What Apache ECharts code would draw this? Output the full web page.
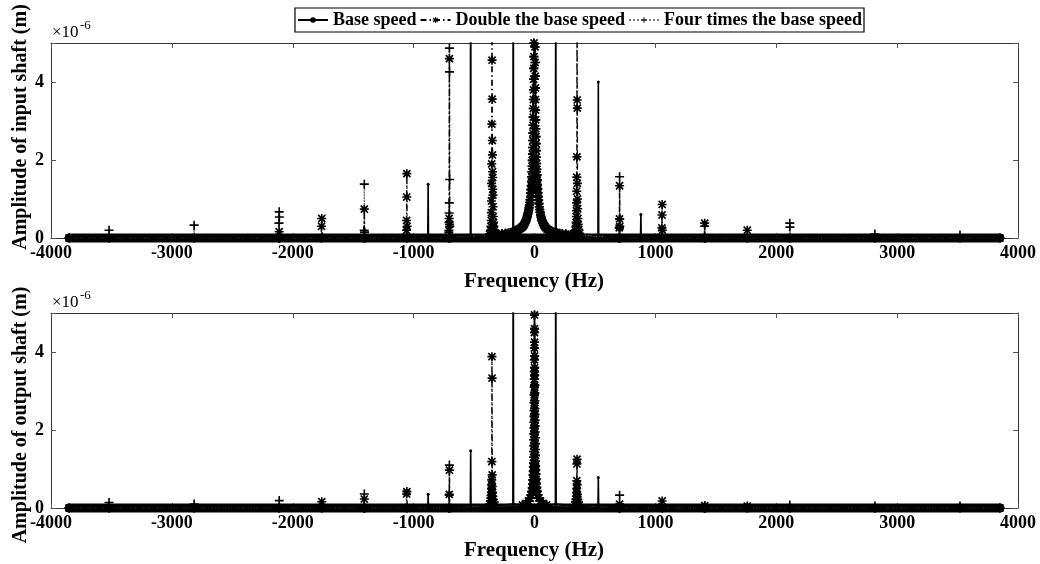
<!DOCTYPE html>
<html>
<head>
<meta charset="utf-8">
<script src="https://cdn.jsdelivr.net/npm/echarts@6/dist/echarts.min.js"></script>
<style>
html,body{margin:0;padding:0;background:#fff;}
#chart{width:1040px;height:564px;}
</style>
</head>
<body>
<div id="chart"></div>
<script>
// ---------- data (frequency in Hz, amplitude in 1e-6 m) ----------
const seriesNames = ['Base speed', 'Double the base speed', 'Four times the base speed'];
const xTicks = [-4000, 4000, 1000];          // min, max, interval
const yTicks = [0, 5, 2];                    // min, max, interval
const bandExtent = [-3850, 3850];            // thick baseline of dense markers

// central (near 0 Hz) peak, input shaft
const centerTop = [
  [-300,0.1],[-270,0.11],[-240,0.12],[-215,0.13],[-195,0.14],[-178,0.155],[-165,0.17],[-152,0.185],[-140,0.2],[-130,0.22],
  [-120,0.24],[-111,0.26],[-103,0.28],[-96,0.3],[-89,0.33],[-83,0.36],[-77,0.4],[-72,0.44],[-67,0.48],[-63,0.52],
  [-59,0.57],[-55,0.62],[-51,0.67],[-48,0.72],[-45,0.78],[-42,0.84],[-39,0.91],[-36,0.98],[-33,1.06],[-31,1.15],
  [-29,1.24],[-27,1.34],[-25,1.45],[-23,1.57],[-21,1.7],[-19.5,1.84],[-18,1.99],[-16.5,2.15],[-15,2.32],[-14,2.5],
  [-13,2.69],[-12,2.89],[-11,3.1],[-10,3.32],[-9,3.55],[-8,3.8],[-7,4.07],[-6,4.35],[-5,4.65],[-4,5],[-3,5.6],
  [0,7],
  [3,5.5],[4,4.9],[5,4.5],[6,4.15],[7,3.85],[8,3.55],[9,3.28],[10,3.03],[11,2.8],[12,2.6],
  [13,2.42],[14.5,2.24],[16,2.07],[17.5,1.91],[19,1.76],[21,1.62],[23,1.49],[25,1.37],[27,1.26],[29,1.16],
  [31.5,1.06],[34,0.97],[37,0.88],[40,0.8],[43,0.73],[46.5,0.66],[50,0.6],[54,0.54],[58,0.49],[63,0.44],
  [68,0.4],[74,0.36],[80,0.32],[87,0.29],[95,0.26],[104,0.23],[114,0.21],[125,0.19],[138,0.17],[152,0.155],
  [168,0.14],[186,0.13],[206,0.12],[230,0.11],[260,0.1],[300,0.09]
];
// central peak, output shaft
const centerBottom = [
  [-100,0.08],[-70,0.12],[-50,0.18],[-35,0.25],[-27,0.33],[-22,0.42],[-18,0.52],[-15,0.62],[-13,0.72],[-11,0.85],
  [-10,0.95],[-9,1.05],[-8,1.15],[-7,1.3],[-6,1.45],[-5.3,1.6],[-4.7,1.75],[-4.2,1.9],[-3.7,2.05],[-3.3,2.2],
  [-2.9,2.35],[-2.6,2.5],[-2.2,2.7],[-1.9,2.9],[-1.6,3.1],[-1.3,3.3],[-1,3.5],[-0.7,3.8],[-0.4,4.1],[-0.2,4.5],
  [0,4.95],[0.2,4.6],[0.4,4.25],[0.7,3.9],[1,3.6],[1.3,3.4],[1.6,3.15],[1.9,2.95],[2.2,2.75],[2.6,2.55],
  [2.9,2.4],[3.3,2.25],[3.7,2.1],[4.2,1.95],[4.7,1.8],[5.3,1.65],[6,1.5],[7,1.35],[8,1.2],[9,1.08],
  [10,0.97],[11,0.87],[13,0.74],[15,0.63],[18,0.53],[22,0.43],[27,0.34],[35,0.26],[50,0.18],[70,0.12],[100,0.08]
];

// input shaft peaks
const baseTop = [
  [-883,0],[-880,1.38],[-877,0],[-531,0],[-528,9],[-525,0],[-179,0.2],[-176,9],[-173,0.22],
  [173,0.22],[176,9],[179,0.2],[525,0],[528,4.0],[531,0],[877,0],[880,0.6],[883,0]
];
const doubleTop = [
  [-2115,0],[-2112,0.16],[-2109,0],[-1764,0],[-1762,0.3],[-1760,0.5],[-1757,0],[-1411,0],[-1408,0.74],[-1405,0],
  [-1061,0],[-1059,0.2],[-1058,0.45],[-1057,1.05],[-1056,1.65],[-1054,0.3],[-1051,0],
  [-710,0],[-708,0.2],[-706,0.5],[-704,4.6],[-702,0.35],[-699,0],
  [-372,0.1],[-364,0.2],[-360,0.3],[-358,0.45],[-357,0.65],[-356,0.95],[-355,1.4],[-354,1.9],[-353,2.92],[-352,9],
  [-351,4.56],[-350,3.56],[-349,2.5],[-348,2.13],[-347,1.7],[-346,1.55],[-345,1.25],[-344,1.1],[-343,0.8],[-341,0.55],
  [-339,0.4],[-336,0.3],[-332,0.2],[-324,0.12],
  [330,0.12],[338,0.2],[342,0.3],[344,0.4],[346,0.55],[347,0.7],[348,0.9],[349,1.2],[350,1.56],[351,2.08],[352,9],
  [353,3.54],[354,3.33],[355,1.4],[356,1.0],[357,0.75],[359,0.5],[362,0.35],[366,0.22],[374,0.12],
  [699,0],[701,0.26],[703,0.49],[704,1.34],[706,0.3],[709,0],
  [1051,0],[1054,0.26],[1055,0.59],[1056,0.86],[1058,0.2],[1061,0],
  [1405,0],[1408,0.38],[1411,0],[1757,0],[1760,0.2],[1763,0]
];
const fourTop = [
  [-3523,0],[-3520,0.2],[-3517,0],[-2819,0],[-2816,0.33],[-2813,0],
  [-2116,0],[-2114,0.38],[-2112,0.67],[-2111,0.54],[-2109,0],
  [-1412,0],[-1409,0.2],[-1408,1.38],[-1406,0.15],[-1403,0],
  [-712,0],[-709,0.15],[-707,0.4],[-706,0.64],[-705,0.9],[-704,4.87],[-703,4.26],[-702,1.5],[-700,0.3],[-696,0],
  [698,0],[702,0.26],[704,1.57],[705,0.49],[708,0],
  [1405,0],[1408,0.3],[1411,0],[2109,0],[2112,0.38],[2113,0.28],[2116,0],
  [2813,0],[2816,0.1],[2819,0],[3517,0],[3520,0.08],[3523,0]
];

// output shaft peaks
const baseBottom = [
  [-883,0],[-880,0.35],[-877,0],[-531,0],[-528,1.47],[-525,0],[-179,0.1],[-176,9],[-173,0.1],
  [173,0.1],[176,9],[179,0.1],[525,0],[528,0.78],[531,0],[877,0],[880,0.05],[883,0]
];
const doubleBottom = [
  [-1763,0],[-1760,0.16],[-1757,0],[-1411,0],[-1408,0.23],[-1405,0],
  [-1060,0],[-1058,0.36],[-1056,0.42],[-1053,0],[-708,0],[-705,0.35],[-704,0.97],[-701,0],
  [-370,0.1],[-364,0.18],[-361,0.25],[-359,0.32],[-357,0.4],[-356,0.5],[-355,0.6],[-354,0.72],[-353,1.19],[-352,3.88],
  [-351,3.33],[-350,0.85],[-349,0.55],[-347,0.4],[-345,0.3],[-342,0.22],[-336,0.14],[-328,0.08],
  [334,0.08],[340,0.15],[344,0.22],[346,0.3],[348,0.39],[349,0.5],[350,0.7],[351,1.13],[352,1.25],[353,0.6],
  [355,0.35],[358,0.22],[362,0.14],[370,0.08],
  [701,0],[704,0.1],[707,0],[1053,0],[1056,0.18],[1059,0],[1405,0],[1408,0.06],[1411,0],[1757,0],[1760,0.05],[1763,0]
];
const fourBottom = [
  [-3523,0],[-3520,0.14],[-3517,0],[-2819,0],[-2816,0.1],[-2813,0],[-2115,0],[-2112,0.19],[-2109,0],
  [-1411,0],[-1408,0.36],[-1405,0],[-708,0],[-706,0.33],[-704,1.1],[-701,0],
  [701,0],[704,0.33],[707,0],[1405,0],[1408,0.06],[1411,0],[2109,0],[2112,0.08],[2115,0],
  [2813,0],[2816,0.05],[2819,0],[3517,0],[3520,0.05],[3523,0]
];

// ---------- chart ----------
const FONT = '"Liberation Serif", "Times New Roman", serif';
const PLUS = 'path://M4.1,0h1.8v10h-1.8zM0,4.1h10v1.8h-10z';
const STAR = 'path://M4.1,0h1.8v10h-1.8zM0,4.1h10v1.8h-10zM0.4,1.7L1.7,0.4L9.6,8.3L8.3,9.6zM8.3,0.4L9.6,1.7L1.7,9.6L0.4,8.3z';

function build(peaks, center) {
  return [[bandExtent[0], 0]].concat(peaks, center, [[bandExtent[1], 0]]).sort((a, b) => a[0] - b[0]);
}

const grids = [{left: 51, right: 22, top: 43, height: 195}, {left: 51, right: 22, top: 313, height: 195}];

function xAxes(g) {
  const common = {gridIndex: g, type: 'value', min: xTicks[0], max: xTicks[1], interval: xTicks[2],
    splitLine: {show: false},
    axisLine: {show: true, onZero: false, lineStyle: {color: '#333', width: 1}},
    axisTick: {show: true, inside: true, length: 5, lineStyle: {color: '#555'}}};
  return [
    Object.assign({}, common, {position: 'bottom',
      axisLabel: {show: true, margin: 6, fontFamily: FONT, fontWeight: 'bold', fontSize: 18, color: '#000',
        formatter: v => String(v)}}),
    Object.assign({}, common, {position: 'top', axisLabel: {show: false}})
  ];
}
function yAxes(g) {
  const common = {gridIndex: g, type: 'value', min: yTicks[0], max: yTicks[1], interval: yTicks[2],
    splitLine: {show: false},
    axisLine: {show: true, onZero: false, lineStyle: {color: '#333', width: 1}},
    axisTick: {show: true, inside: true, length: 5, lineStyle: {color: '#555'}}};
  return [
    Object.assign({}, common, {position: 'left',
      axisLabel: {show: true, margin: 7, fontFamily: FONT, fontWeight: 'bold', fontSize: 18, color: '#000',
        formatter: v => (v === yTicks[1] ? '' : String(v))}}),
    Object.assign({}, common, {position: 'right', axisLabel: {show: false}})
  ];
}

function seriesFor(g, base, dbl, four, center) {
  const xi = g * 2, yi = g * 2;
  return [
    {type: 'line', name: '_band' + g, xAxisIndex: xi, yAxisIndex: yi, silent: true, symbol: 'none', clip: false,
      data: [[bandExtent[0], 0], [bandExtent[1], 0]], lineStyle: {color: '#000', width: 9, cap: 'round'}, z: 1},
    {type: 'line', name: seriesNames[2], xAxisIndex: xi, yAxisIndex: yi, data: build(four, center),
      symbol: PLUS, symbolSize: 9, showSymbol: true, itemStyle: {color: '#000'},
      lineStyle: {color: '#777', width: 1.4, type: 'dotted'}, z: 2},
    {type: 'line', name: seriesNames[1], xAxisIndex: xi, yAxisIndex: yi, data: build(dbl, center),
      symbol: STAR, symbolSize: 9, showSymbol: true, itemStyle: {color: '#000'},
      lineStyle: {color: '#000', width: 1.4, type: [6, 3, 1.5, 3]}, z: 3},
    {type: 'line', name: seriesNames[0], xAxisIndex: xi, yAxisIndex: yi, data: build(base, center),
      symbol: 'circle', symbolSize: 3, showSymbol: true, itemStyle: {color: '#000'},
      lineStyle: {color: '#000', width: 1.6}, z: 4}
  ];
}

function txt(x, y, text, size, weight, rot, align, valign) {
  return {type: 'text', x: x, y: y, rotation: rot || 0, silent: true,
    style: {text: text, fontFamily: FONT, fontSize: size, fontWeight: weight, fill: '#000',
      align: align || 'center', verticalAlign: valign || 'middle'}};
}

const option = {
  animation: false,
  backgroundColor: '#fff',
  legend: {
    data: seriesNames, left: 295, top: 8, orient: 'horizontal',
    itemWidth: 30, itemHeight: 7, itemGap: 3, padding: [3, 2],
    borderColor: '#000', borderWidth: 1.2,
    textStyle: {fontFamily: FONT, fontWeight: 'bold', fontSize: 18, color: '#000'}
  },
  grid: grids,
  xAxis: xAxes(0).concat(xAxes(1)),
  yAxis: yAxes(0).concat(yAxes(1)),
  series: seriesFor(0, baseTop, doubleTop, fourTop, centerTop)
    .concat(seriesFor(1, baseBottom, doubleBottom, fourBottom, centerBottom)),
  graphic: [
    txt(21, 127, 'Amplitude of input shaft (m)', 20, 'bold', Math.PI / 2),
    txt(21, 415, 'Amplitude of output shaft (m)', 20, 'bold', Math.PI / 2),
    txt(534, 282, 'Frequency (Hz)', 21, 'bold', 0),
    txt(534, 551, 'Frequency (Hz)', 21, 'bold', 0),
    txt(52, 33, '×10', 17, 'normal', 0, 'left', 'middle'),
    txt(80, 26, '-6', 13, 'normal', 0, 'left', 'middle'),
    txt(52, 303, '×10', 17, 'normal', 0, 'left', 'middle'),
    txt(80, 296, '-6', 13, 'normal', 0, 'left', 'middle')
  ]
};

const chart = echarts.init(document.getElementById('chart'), null, {renderer: 'canvas'});
chart.setOption(option);
</script>
</body>
</html>
